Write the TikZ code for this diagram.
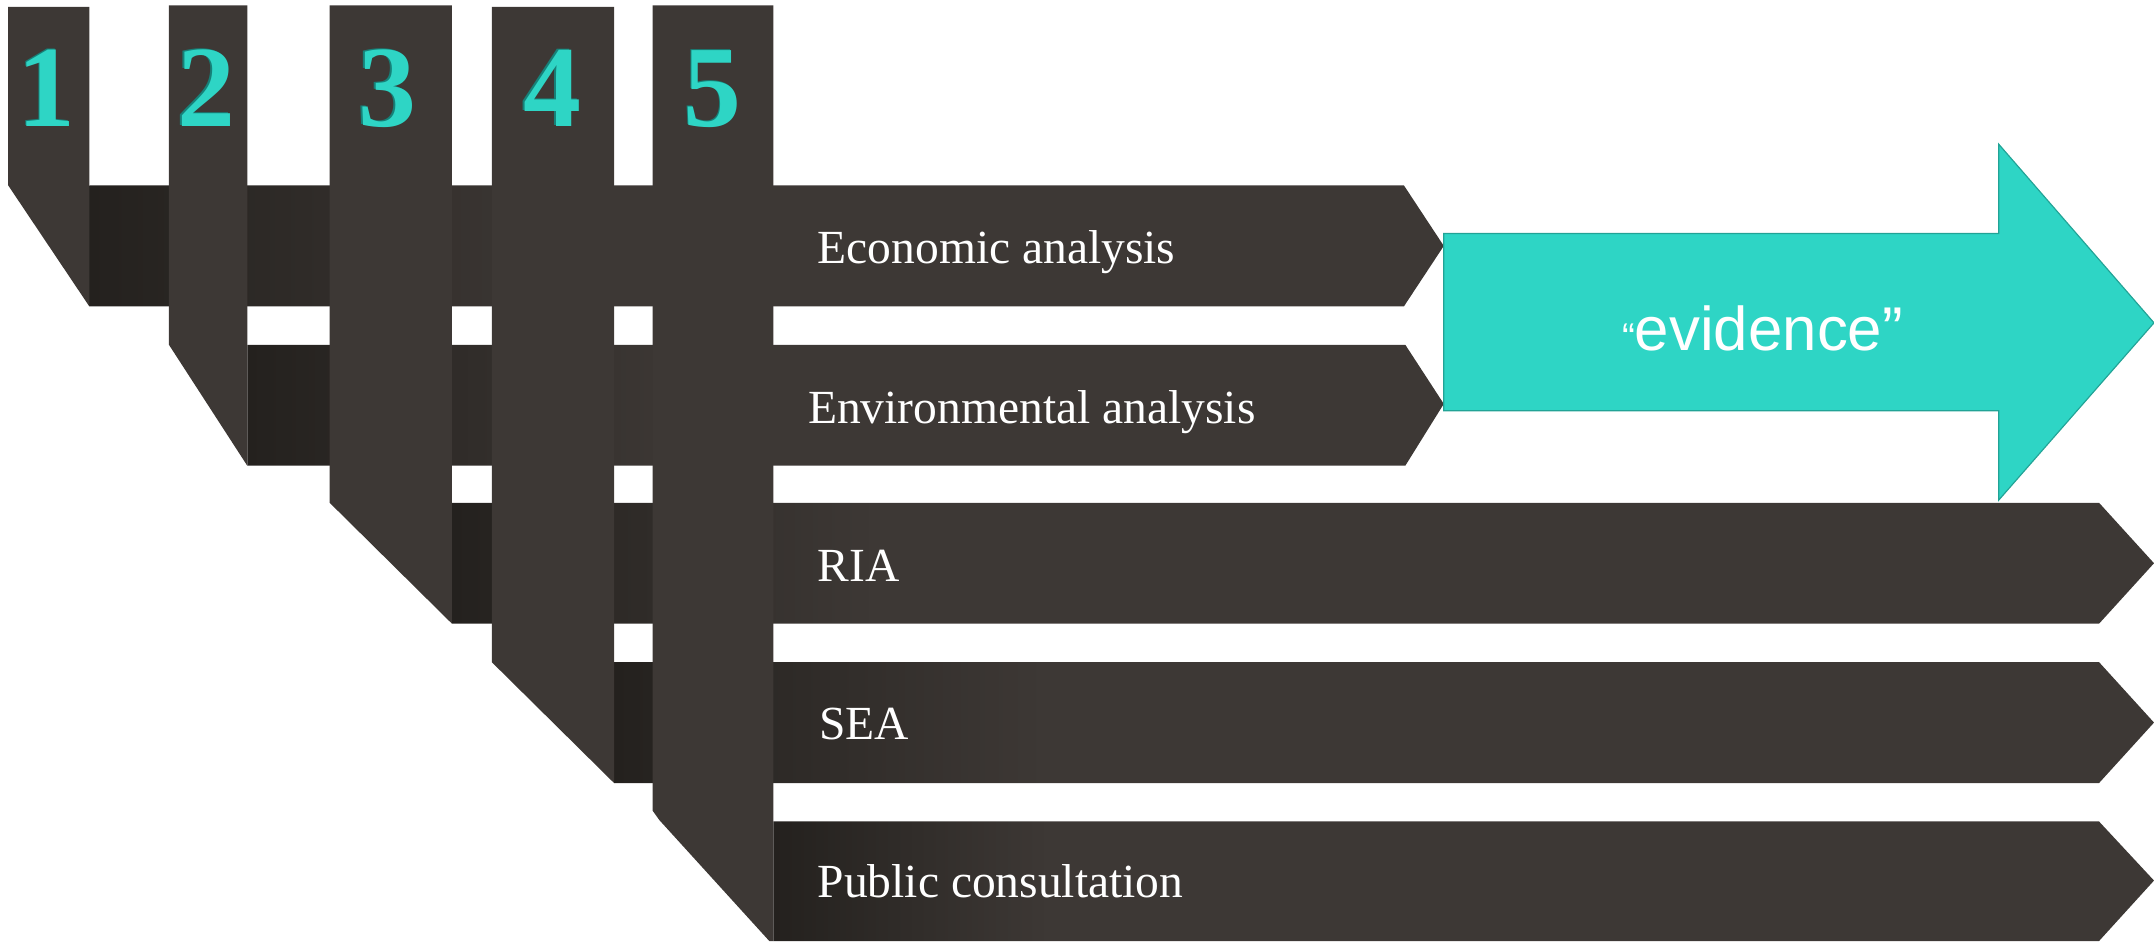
\documentclass[tikz,border=0pt]{standalone}
\usepackage{fontspec}
\setmainfont{Liberation Serif}
\newfontfamily\arialf{Liberation Sans}
\definecolor{barc}{HTML}{3D3835}
\definecolor{bardark}{HTML}{24211E}
\definecolor{tealc}{HTML}{2ED5C5}
\definecolor{tealedge}{HTML}{22A396}
\definecolor{tealshadow}{HTML}{168078}
\pgfdeclarehorizontalshading{fadeA}{100bp}{color(0bp)=(bardark); color(25bp)=(bardark); color(43bp)=(barc); color(100bp)=(barc)}
\pgfdeclarehorizontalshading{fadeB}{100bp}{color(0bp)=(bardark); color(25bp)=(bardark); color(43.4bp)=(barc); color(100bp)=(barc)}
\pgfdeclarehorizontalshading{fadeC}{100bp}{color(0bp)=(bardark); color(25bp)=(bardark); color(37.5bp)=(barc); color(100bp)=(barc)}
\pgfdeclarehorizontalshading{fadeD}{100bp}{color(0bp)=(bardark); color(25bp)=(bardark); color(39bp)=(barc); color(100bp)=(barc)}
\pgfdeclarehorizontalshading{fadeE}{100bp}{color(0bp)=(bardark); color(25bp)=(bardark); color(35bp)=(barc); color(100bp)=(barc)}
\tikzset{
  x=0.025cm, y=-0.025cm,
  tabfill/.style={fill=barc},
  label/.style={anchor=base west, text=white, inner sep=0pt, font=\fontsize{24.6}{28}\selectfont},
  digit/.style={anchor=base, text=tealc, inner sep=0pt, font=\fontsize{60}{66}\selectfont\bfseries},
  digitsh/.style={anchor=base, text=tealshadow, inner sep=0pt, font=\fontsize{60}{66}\selectfont\bfseries},
}
\begin{document}
\begin{tikzpicture}
\useasboundingbox (0,0) rectangle (1568,685);
% bars
\shade[shading=fadeA] (65,135) -- (1022,135) -- (1051,179) -- (1022,223) -- (65,223) -- cycle;
\shade[shading=fadeB] (180,251) -- (1023,251) -- (1051,294) -- (1023,339) -- (180,339) -- cycle;
\shade[shading=fadeC] (329,366) -- (1528,366) -- (1568,410) -- (1528,454) -- (329,454) -- cycle;
\shade[shading=fadeD] (447,482) -- (1528,482) -- (1568,526) -- (1528,570) -- (447,570) -- cycle;
\shade[shading=fadeE] (563,598) -- (1528,598) -- (1568,641) -- (1528,685) -- (563,685) -- cycle;
% tabs
\fill[tabfill] (6,5) -- (65,5) -- (65,223) -- (6,135) -- cycle;
\fill[tabfill] (123,4) -- (180,4) -- (180,339) -- (123,251) -- cycle;
\fill[tabfill] (240,4) -- (329,4) -- (329,454) -- (240,366) -- cycle;
\fill[tabfill] (358,5) -- (447,5) -- (447,570) -- (358,482) -- cycle;
\fill[tabfill] (475,4) -- (563,4) -- (563,685) -- (560,685) -- (480,597) -- (475,590) -- cycle;
% digits
\foreach \n/\xx in {1/34,2/150,3/282,4/402,5/519}{
  \node[digitsh] at (\xx-1.2,91) {\n};
  \node[digit] (d\n) at (\xx,92) {\n};
}
% evidence arrow
\draw[fill=tealc, draw=tealedge, line width=0.6pt] (1051,170) -- (1455,170) -- (1455,105) -- (1568,235) -- (1455,364) -- (1455,299) -- (1051,299) -- cycle;
\node[anchor=base, text=white, inner sep=0pt, font=\arialf\fontsize{32}{36}\selectfont] (ev) at (1283,255) {{\fontsize{20}{24}\selectfont“}evidence”};
% labels
\node[label] (econ) at (595,192) {Economic analysis};
\node[label] (env) at (588,308) {Environmental analysis};
\node[label] (ria) at (595,423) {RIA};
\node[label] (sea) at (596,538) {SEA};
\node[label] (pub) at (595,653) {Public consultation};
\end{tikzpicture}
\end{document}
